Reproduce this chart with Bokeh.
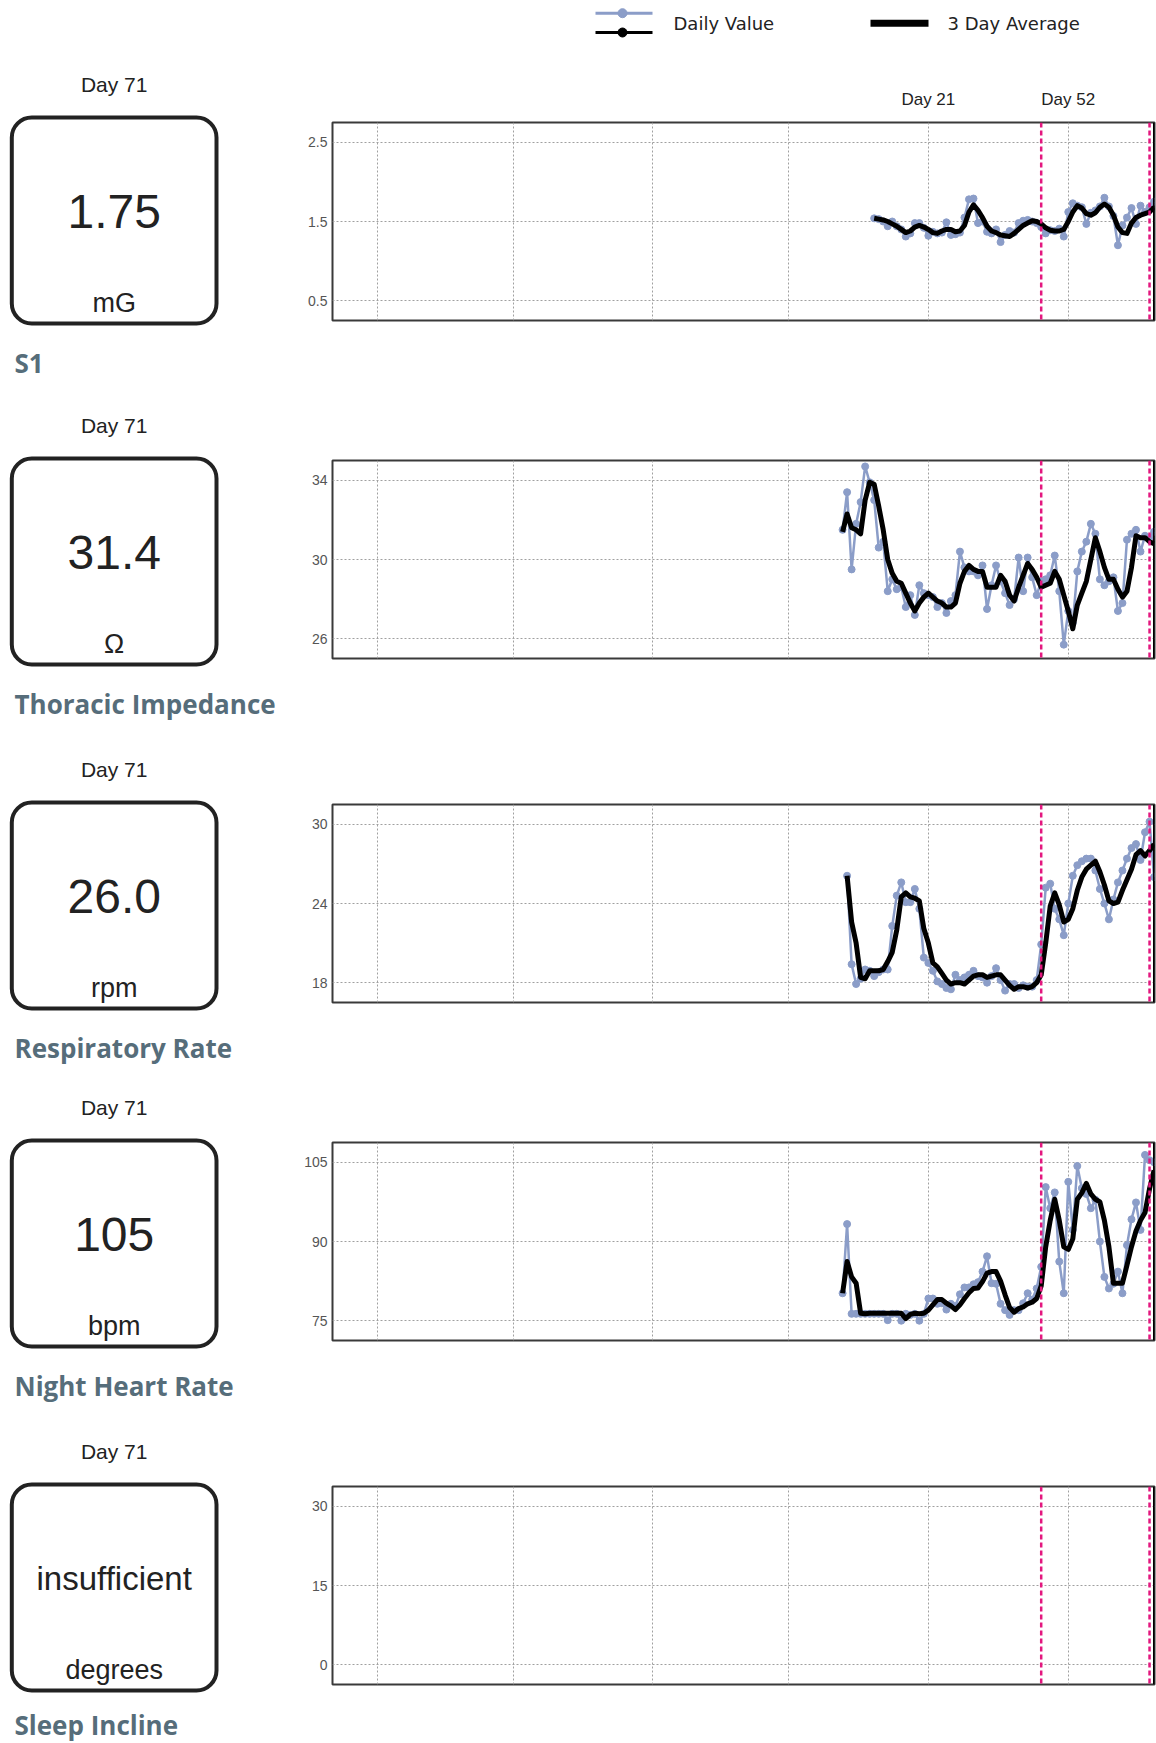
from bokeh.plotting import figure
from bokeh.layouts import row, column
from bokeh.models import Range1d, FixedTicker, Span
from bokeh.core.properties import value
from bokeh.embed import file_html
from bokeh.resources import INLINE

# ---------------- data ----------------
GRID_DAYS = [-101, -71, -40, -10, 21, 52]
TOP_LABEL_DAYS = [21, 52]
TOP_LABELS = {21: "Day 21", 52: "Day 52"}
MARKER_DAYS = [46, 70]
X_START, X_END = -111.0, 71.1

PANEL_DAY = "Day 71"
PANEL_VALUES = ["1.75", "31.4", "26.0", "105", "insufficient"]
PANEL_UNITS = ["mG", "Ω", "rpm", "bpm", "degrees"]
PANEL_LABELS = ["S1", "Thoracic Impedance", "Respiratory Rate", "Night Heart Rate", "Sleep Incline"]

S1_TICKS = [0.5, 1.5, 2.5]
S1_RANGE = (0.25, 2.75)
S1_DAYS = list(range(9, 72))
S1_DAILY = [1.54, 1.53, 1.50, 1.44, 1.50, 1.44, 1.40, 1.31, 1.35, 1.48,
            1.48, 1.42, 1.32, 1.37, 1.35, 1.36, 1.49, 1.33, 1.34, 1.36,
            1.55, 1.78, 1.79, 1.48, 1.50, 1.37, 1.35, 1.40, 1.24, 1.33,
            1.38, 1.36, 1.48, 1.51, 1.52, 1.50, 1.48, 1.43, 1.35, 1.39,
            1.38, 1.41, 1.31, 1.62, 1.73, 1.70, 1.68, 1.47, 1.61, 1.64,
            1.69, 1.80, 1.69, 1.57, 1.20, 1.45, 1.55, 1.67, 1.47, 1.70,
            1.62, 1.68, 1.75]
S1_AVG = [1.54, 1.53, 1.52, 1.50, 1.47, 1.44, 1.40, 1.36, 1.38, 1.43,
          1.45, 1.43, 1.40, 1.36, 1.35, 1.38, 1.40, 1.40, 1.37, 1.38,
          1.45, 1.62, 1.71, 1.64, 1.55, 1.44, 1.38, 1.36, 1.33, 1.32,
          1.31, 1.35, 1.40, 1.45, 1.48, 1.51, 1.50, 1.47, 1.42, 1.39,
          1.38, 1.38, 1.40, 1.50, 1.62, 1.70, 1.67, 1.60, 1.58, 1.61,
          1.68, 1.72, 1.68, 1.58, 1.43, 1.36, 1.35, 1.48, 1.55, 1.58,
          1.60, 1.62, 1.68]

TI_TICKS = [26, 30, 34]
TI_RANGE = (25, 35)
TI_DAYS = list(range(2, 72))
TI_DAILY = [31.5, 33.4, 29.5, 31.8, 32.9, 34.7, 33.9, 33.0, 30.6, 30.9,
            28.4, 29.0, 28.5, 28.6, 27.6, 28.2, 27.2, 28.7, 28.3, 28.2,
            28.1, 27.6, 27.8, 27.3, 27.9, 28.2, 30.4, 29.6, 29.4, 29.4,
            29.2, 29.7, 27.5, 28.7, 29.7, 28.9, 28.3, 27.7, 28.0, 30.1,
            28.4, 30.1, 29.1, 28.2, 28.9, 29.0, 29.2, 30.2, 28.4, 25.7,
            27.4, 26.8, 29.4, 30.4, 30.9, 31.8, 31.3, 29.0, 28.7, 28.9,
            29.1, 27.4, 27.8, 31.0, 31.3, 31.5, 30.4, 31.2, 31.1, 31.4]
TI_AVG = [31.4, 32.3, 31.6, 31.5, 31.3, 33.0, 33.9, 33.8, 32.7, 31.5,
          30.0, 29.3, 28.9, 28.8, 28.3, 27.8, 27.4, 27.8, 28.1, 28.3,
          28.1, 27.9, 27.8, 27.6, 27.6, 27.8, 28.8, 29.4, 29.7, 29.5,
          29.4, 29.4, 28.6, 28.6, 28.6, 29.2, 28.9, 28.2, 27.9, 28.6,
          29.2, 29.8, 29.5, 29.1, 28.6, 28.7, 28.8, 29.4, 29.0, 28.2,
          27.4, 26.5, 27.7, 28.3, 28.9, 30.0, 31.1, 30.4, 29.6, 29.0,
          29.0, 28.5, 28.1, 28.4, 29.6, 31.2, 31.1, 31.1, 30.9, 30.8]

RR_TICKS = [18, 24, 30]
RR_RANGE = (16.5, 31.5)
RR_DAYS = list(range(3, 72))
RR_DAILY = [26.1, 19.4, 17.9, 18.3, 19.0, 18.9, 18.5, 18.8, 19.0, 19.0,
            22.3, 24.6, 25.6, 24.1, 24.1, 25.1, 23.6, 19.9, 19.5, 18.9,
            18.1, 17.9, 17.6, 17.5, 18.6, 18.2, 18.4, 18.6, 18.9, 18.5,
            18.4, 18.0, 18.5, 19.1, 18.2, 17.4, 17.9, 17.9, 17.6, 17.8,
            17.7, 17.7, 18.2, 20.9, 25.2, 25.5, 23.6, 22.8, 21.6, 24.0,
            26.1, 26.9, 27.2, 27.4, 27.4, 26.5, 25.1, 24.0, 22.8, 24.3,
            25.6, 26.5, 27.4, 28.2, 28.5, 27.3, 29.4, 30.2, 26.0]
RR_AVG = [26.1, 22.6, 21.0, 18.4, 18.3, 18.9, 18.9, 18.9, 19.0, 19.6,
          20.3, 22.0, 24.5, 24.8, 24.5, 24.4, 24.2, 22.1, 21.0, 19.5,
          19.2, 18.7, 18.2, 17.9, 18.0, 18.0, 17.9, 18.2, 18.5, 18.6,
          18.6, 18.4, 18.5, 18.6, 18.6, 18.2, 17.8, 17.5, 17.7, 17.7,
          17.6, 17.7, 18.0, 18.6, 21.0, 23.8, 24.8, 23.9, 22.6, 22.8,
          23.6, 25.0, 26.0, 26.6, 26.9, 27.2, 26.4, 25.4, 24.2, 24.0,
          24.1, 25.0, 25.8, 26.6, 27.7, 28.0, 27.6, 28.0, 28.5]

NHR_TICKS = [75, 90, 105]
NHR_RANGE = (71.25, 108.75)
NHR_DAYS = list(range(2, 72))
NHR_DAILY = [80.2, 93.3, 76.3, 76.3, 76.3, 76.3, 76.3, 76.3, 76.3, 76.3,
             75.1, 76.3, 76.3, 75.0, 76.3, 76.1, 76.3, 75.0, 76.3, 79.2,
             79.2, 78.2, 78.3, 77.1, 78.2, 77.8, 80.0, 81.3, 81.3, 81.9,
             82.3, 84.3, 87.2, 82.1, 82.0, 78.2, 77.0, 76.1, 77.0, 77.0,
             78.3, 80.2, 79.0, 81.1, 85.2, 100.3, 96.3, 99.3, 86.2, 80.2,
             101.3, 92.2, 104.3, 100.1, 99.0, 96.3, 97.9, 90.0, 83.3, 81.1,
             82.0, 84.3, 80.2, 89.3, 94.2, 97.4, 92.2, 106.4, 105.4, 105.0]
NHR_AVG = [80.2, 86.2, 83.3, 82.1, 76.4, 76.3, 76.4, 76.4, 76.4, 76.4,
           76.4, 76.4, 76.4, 76.4, 75.4, 76.2, 76.4, 76.3, 76.4, 77.0,
           78.0, 79.0, 79.0, 78.3, 77.8, 77.1, 78.0, 79.2, 80.3, 81.1,
           81.2, 82.4, 84.0, 84.3, 84.3, 82.5, 79.9, 77.5, 76.6, 77.3,
           77.6, 78.2, 78.5, 79.2, 81.6, 89.0, 94.0, 98.0, 94.0, 89.0,
           88.5, 90.5, 98.0, 99.2, 101.0, 99.0, 98.0, 97.5, 94.0, 89.0,
           82.1, 82.1, 82.1, 85.5, 89.0, 92.0, 94.0, 95.5, 100.0, 103.5]

SI_TICKS = [0, 15, 30]
SI_RANGE = (-3.75, 33.75)

# ---------------- style ----------------
BLUE = "#8b9dc8"
MAGENTA = "#e3177f"
DARK = "#222222"
LABEL_COLOR = "#566d7a"
SANS = value("Liberation Sans")

TOTAL_H = 1743
LEFT_W = 278
RIGHT_W = 878
HEADER_H = 60
BORDER_L, BORDER_R = 54, 2
FRAME_L, FRAME_R = LEFT_W + BORDER_L, LEFT_W + RIGHT_W - BORDER_R
BOX_TOPS = [115, 456, 800, 1138, 1482]   # screen y of each box (outer top)
LABEL_OFFSETS = [247, 247, 247, 247, 242]


def text(p, x, y, t, size, color=DARK, font=SANS, align="center", style="normal"):
    p.text(x=[x], y=[y], text=[t], text_font=font, text_font_size=size,
           text_color=color, text_align=align, text_baseline="middle",
           text_font_style=style)


# ---------------- left column (value boxes) ----------------
left = figure(width=LEFT_W, height=TOTAL_H, x_range=Range1d(0, LEFT_W),
              y_range=Range1d(TOTAL_H, 0), toolbar_location=None,
              output_backend="svg", title=None, min_border=0,
              x_axis_location=None, y_axis_location=None)
left.grid.visible = False
left.outline_line_color = None

for i, T in enumerate(BOX_TOPS):
    cx = 113.7
    text(left, cx, T - 31, PANEL_DAY, "21px")
    left.quad(left=[11.3], right=[216], top=[T + 2], bottom=[T + 208],
              fill_color=None, line_color=DARK, line_width=4, border_radius=20)
    vsize = "33px" if PANEL_VALUES[i] == "insufficient" else "48px"
    text(left, cx, T + 96, PANEL_VALUES[i], vsize)
    text(left, cx, T + 187, PANEL_UNITS[i], "27px")
    text(left, 14, T + LABEL_OFFSETS[i], PANEL_LABELS[i], "26px", color=LABEL_COLOR,
         font=value("Open Sans"), align="left", style="bold")

# ---------------- header (legend), x in screen pixels ----------------
hdr = figure(width=RIGHT_W, height=HEADER_H, x_range=Range1d(FRAME_L, FRAME_R),
             y_range=Range1d(HEADER_H, 0), toolbar_location=None, output_backend="svg",
             title=None, min_border=0, min_border_left=BORDER_L,
             min_border_right=BORDER_R, x_axis_location=None, y_axis_location=None)
hdr.grid.visible = False
hdr.outline_line_color = None
hdr.line([595, 652], [12.7, 12.7], line_color=BLUE, line_width=3)
hdr.scatter([622], [12.7], size=9, color=BLUE)
hdr.line([595, 652], [32, 32], line_color="black", line_width=3)
hdr.scatter([622], [32], size=9, color="black")
text(hdr, 673, 22.7, "Daily Value", "18px", font=value("DejaVu Sans"), align="left")
hdr.line([870, 928], [22.7, 22.7], line_color="black", line_width=7)
text(hdr, 947, 22.7, "3 Day Average", "18px", font=value("DejaVu Sans"), align="left")


# ---------------- charts ----------------
def make_chart(height, top, bottom, yr, yticks, days=None, daily=None, avg=None,
               top_axis=False):
    p = figure(width=RIGHT_W, height=height, x_range=Range1d(X_START, X_END),
               y_range=Range1d(*yr), toolbar_location=None, output_backend="svg",
               title=None, x_axis_location="above" if top_axis else None,
               y_axis_location="left", min_border_left=BORDER_L,
               min_border_right=BORDER_R, min_border_top=top, min_border_bottom=bottom)
    p.background_fill_color = "white"
    p.border_fill_color = "white"
    p.outline_line_color = "#3a3a3a"
    p.outline_line_width = 2

    p.yaxis.ticker = FixedTicker(ticks=yticks)
    p.yaxis.axis_line_color = None
    p.yaxis.major_tick_line_color = None
    p.yaxis.minor_tick_line_color = None
    p.yaxis.major_tick_out = 0
    p.yaxis.major_tick_in = 0
    p.yaxis.minor_tick_out = 0
    p.yaxis.major_label_standoff = 5
    p.yaxis.major_label_text_font = "Liberation Sans"
    p.yaxis.major_label_text_font_size = "14px"
    p.yaxis.major_label_text_color = "#555555"

    if top_axis:
        p.xaxis.ticker = FixedTicker(ticks=TOP_LABEL_DAYS)
        p.xaxis.major_label_overrides = TOP_LABELS
        p.xaxis.axis_line_color = None
        p.xaxis.major_tick_line_color = None
        p.xaxis.minor_tick_line_color = None
        p.xaxis.major_tick_out = 0
        p.xaxis.major_tick_in = 0
        p.xaxis.minor_tick_out = 0
        p.xaxis.major_label_standoff = 14
        p.xaxis.major_label_text_font = "Liberation Sans"
        p.xaxis.major_label_text_font_size = "17px"
        p.xaxis.major_label_text_color = DARK

    p.xgrid.ticker = FixedTicker(ticks=GRID_DAYS)
    for g in (p.xgrid, p.ygrid):
        g.grid_line_color = "#a0a0a0"
        g.grid_line_dash = "2 2"
        g.grid_line_width = 1

    if days is not None:
        p.line(days, daily, line_color=BLUE, line_width=2.5)
        p.scatter(days, daily, size=7, color=BLUE)
        p.line(days, avg, line_color="black", line_width=5, line_join="round")

    for d in MARKER_DAYS:
        p.add_layout(Span(location=d, dimension="height", line_color=MAGENTA,
                          line_dash="5 3", line_width=2.5))
    # heavy right-hand frame edge
    p.add_layout(Span(location=X_END, dimension="height", line_color="black",
                      line_width=3))
    return p


c1 = make_chart(332, 62, 72, S1_RANGE, S1_TICKS, S1_DAYS, S1_DAILY, S1_AVG, top_axis=True)
c2 = make_chart(343, 68, 77, TI_RANGE, TI_TICKS, TI_DAYS, TI_DAILY, TI_AVG)
c3 = make_chart(340, 69, 73, RR_RANGE, RR_TICKS, RR_DAYS, RR_DAILY, RR_AVG)
c4 = make_chart(343, 67, 78, NHR_RANGE, NHR_TICKS, NHR_DAYS, NHR_DAILY, NHR_AVG)
c5 = make_chart(325, 68, 59, SI_RANGE, SI_TICKS)

right = column(hdr, c1, c2, c3, c4, c5, spacing=0)
page = row(left, right, spacing=0)

open("out.html", "w").write(file_html(page, INLINE))
